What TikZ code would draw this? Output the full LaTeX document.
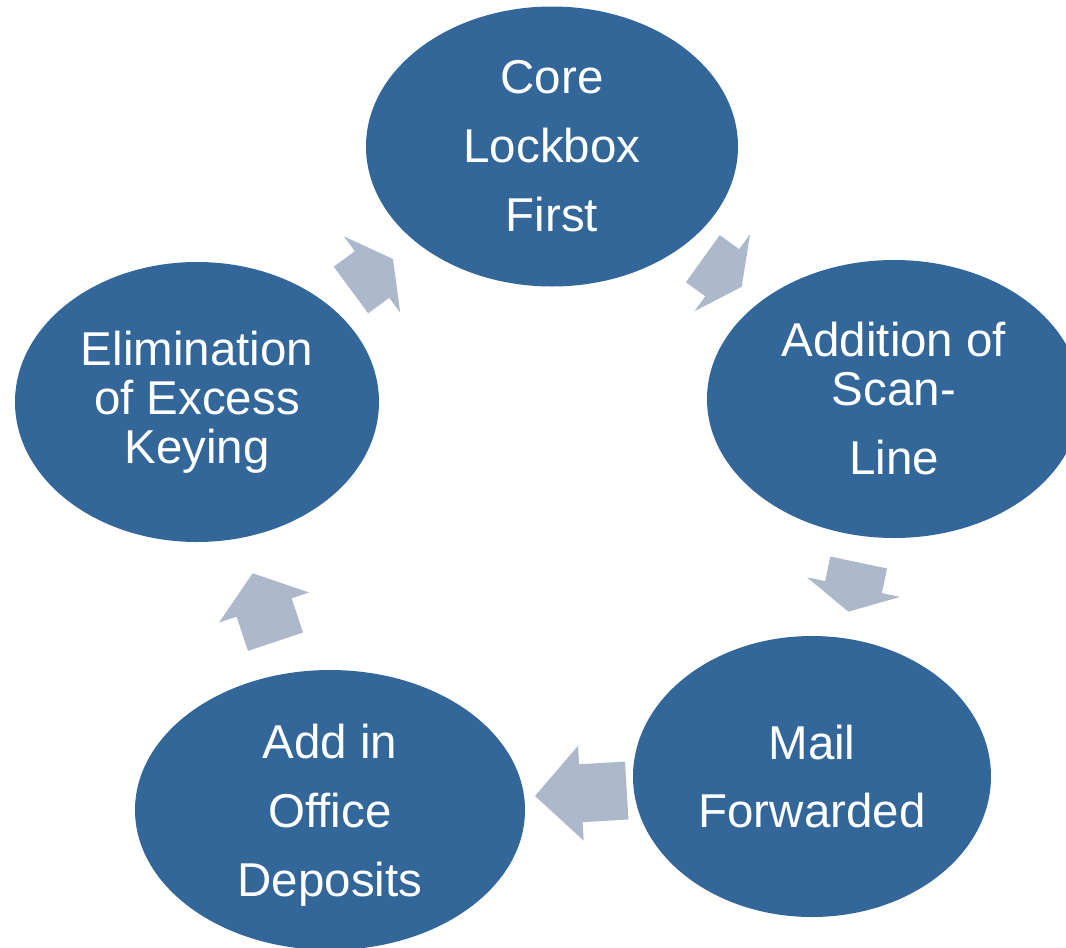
\documentclass[tikz,border=0pt]{standalone}
\usepackage{fontspec}
\setmainfont{Liberation Sans}
\usetikzlibrary{shapes.geometric,calc}

\definecolor{stageblue}{HTML}{336699}
\definecolor{arrowgrey}{HTML}{ADB9CA}

\tikzset{
  stage/.style={ellipse, fill=stageblue, text=white, inner sep=0pt,
    align=center, font=\fontsize{47.5}{49}\selectfont},
  flowarrow/.style={fill=arrowgrey},
}

% Block arrow from a tail midpoint to a tip: shaft 58 wide, head 95 wide,
% head taking half of the total length.
\newcommand\cyclearrow[3]{%
  \coordinate (#1-m) at ($(#2)!0.5!(#3)$);
  \fill[flowarrow]
    ($(#2)!29pt!90:(#3)$) -- ($(#1-m)!29pt!90:(#3)$)
    -- ($(#1-m)!47.5pt!90:(#3)$) -- (#3)
    -- ($(#1-m)!47.5pt!-90:(#3)$) -- ($(#1-m)!29pt!-90:(#3)$)
    -- ($(#2)!29pt!-90:(#3)$) -- cycle;
}
% balances a descender on the last line so the text block stays centred
\newcommand\topstrut{\rule{0pt}{45pt}}

\begin{document}
\begin{tikzpicture}[x=1pt,y=1pt]
\clip (0,0) rectangle (1066,-948);

% stages of the cycle
\node[stage, minimum width=372pt, minimum height=280pt] (core) at (552,-146.5)
  {Core\\[20pt]Lockbox\\[20pt]First};
\node[stage, minimum width=374pt, minimum height=278pt] (scan) at (894,-399)
  {Addition of\\Scan-\\[20pt]Line};
\node[stage, minimum width=358pt, minimum height=281pt] (mail) at (812,-776.5)
  {Mail\\[19pt]Forwarded};
\node[stage, minimum width=390pt, minimum height=280pt] (office) at (330,-810)
  {\topstrut Add in\\[20pt]Office\\[20pt]Deposits};
\node[stage, minimum width=364pt, minimum height=280pt] (elim) at (197,-402)
  {Elimination\\of Excess\\Keying};

% arrow ends
\coordinate (a1-tail) at (351,-290);     \coordinate (a1-tip) at (393,-259);
\coordinate (a2-tail) at (702.8,-258.7); \coordinate (a2-tip) at (741.7,-286.7);
\coordinate (a3-tail) at (858.7,-562.5); \coordinate (a3-tip) at (848.3,-611.7);
\coordinate (a4-tail) at (626.7,-790.5); \coordinate (a4-tip) at (535,-796);
\coordinate (a5-tail) at (275.5,-641.7); \coordinate (a5-tip) at (252.7,-573.3);

\cyclearrow{a1}{a1-tail}{a1-tip}
\cyclearrow{a2}{a2-tail}{a2-tip}
\cyclearrow{a3}{a3-tail}{a3-tip}
\cyclearrow{a4}{a4-tail}{a4-tip}
\cyclearrow{a5}{a5-tail}{a5-tip}
\end{tikzpicture}
\end{document}
